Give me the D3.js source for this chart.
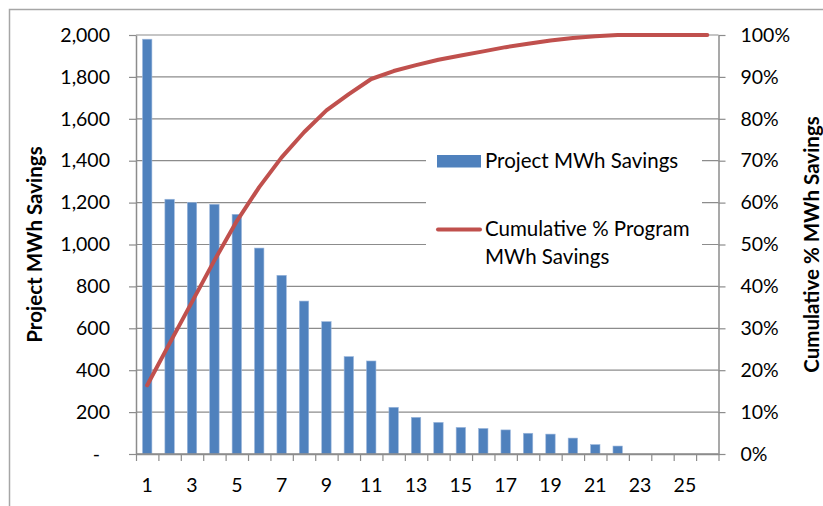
<!DOCTYPE html>
<html>
<head>
<meta charset="utf-8">
<script src="https://cdn.jsdelivr.net/npm/d3@7"></script>
<style>
  body { margin: 0; background: #fff; }
  svg { display: block; font-family: Lato, "Liberation Sans", sans-serif; }
</style>
</head>
<body>
<svg id="chart" width="823" height="506"></svg>
<script>
// chart values
const projects = [1, 2, 3, 4, 5, 6, 7, 8, 9, 10, 11, 12, 13, 14, 15, 16, 17, 18, 19, 20, 21, 22, 23, 24, 25, 26];
const mwhSavings = [1980, 1216, 1201, 1192, 1144, 983, 853, 730, 632, 465, 444, 223, 175, 151, 127, 122, 115, 99, 95, 76, 45, 38, 0, 0, 0, 0];
const cumulativePct = [16.4, 26.4, 36.3, 46.2, 55.6, 63.7, 70.8, 76.8, 82.0, 85.9, 89.5, 91.4, 92.8, 94.1, 95.1, 96.1, 97.1, 97.9, 98.7, 99.3, 99.7, 100, 100, 100, 100, 100];
const leftTicks = [0, 200, 400, 600, 800, 1000, 1200, 1400, 1600, 1800, 2000];
const rightTicks = [0, 10, 20, 30, 40, 50, 60, 70, 80, 90, 100];
const xLabels = [1, 3, 5, 7, 9, 11, 13, 15, 17, 19, 21, 23, 25];

const margin = { top: 35, right: 104.5, bottom: 52, left: 136 };
const svg = d3.select("#chart");
const W = +svg.attr("width"), H = +svg.attr("height");
const plotLeft = margin.left, plotRight = W - margin.right;
const plotTop = margin.top, plotBottom = H - margin.bottom;
const gridColor = "#8c8c8c";

// outer frame
svg.append("rect")
  .attr("x", 9.5).attr("y", 9.5)
  .attr("width", W).attr("height", H)
  .attr("fill", "none")
  .attr("stroke", "#a6a6a6")
  .attr("stroke-width", 1.5);

const x = d3.scaleBand()
  .domain(projects)
  .range([plotLeft, plotRight])
  .paddingInner(0.58)
  .paddingOuter(0.29);
const xSlot = d3.scaleLinear().domain([0, projects.length]).range([plotLeft, plotRight]);
const yLeft = d3.scaleLinear().domain([0, 2000]).range([plotBottom, plotTop]);
const yRight = d3.scaleLinear().domain([0, 100]).range([plotBottom, plotTop]);

// gridlines
svg.append("g")
  .selectAll("line")
  .data(leftTicks.filter(d => d > 0))
  .enter()
  .append("line")
  .attr("x1", plotLeft).attr("x2", plotRight)
  .attr("y1", d => yLeft(d)).attr("y2", d => yLeft(d))
  .attr("stroke", gridColor)
  .attr("stroke-width", 1.2);

function styleAxis(g) {
  g.attr("font-family", null).attr("font-size", null);
  g.select(".domain").attr("stroke", gridColor).attr("stroke-width", 1.5);
  g.selectAll(".tick line").attr("stroke", gridColor).attr("stroke-width", 1.2);
  g.selectAll(".tick text").attr("fill", "#000").style("font-size", "19.5px");
}

// left axis
const gLeft = svg.append("g")
  .attr("transform", "translate(" + plotLeft + ",0)")
  .call(d3.axisLeft(yLeft)
    .tickValues(leftTicks)
    .tickSize(7)
    .tickSizeOuter(0)
    .tickPadding(19)
    .tickFormat(d => d === 0 ? "-" : d3.format(",")(d)));
styleAxis(gLeft);
gLeft.selectAll(".tick text").filter(d => d === 0).attr("dx", "-10");

// right axis
const gRight = svg.append("g")
  .attr("transform", "translate(" + plotRight + ",0)")
  .call(d3.axisRight(yRight)
    .tickValues(rightTicks)
    .tickSize(7)
    .tickSizeOuter(0)
    .tickPadding(15)
    .tickFormat(d => d + "%"));
styleAxis(gRight);

// bottom axis: ticks at slot edges, labels at odd projects
const gTicks = svg.append("g")
  .attr("transform", "translate(0," + plotBottom + ")")
  .call(d3.axisBottom(xSlot)
    .tickValues(d3.range(projects.length + 1))
    .tickSize(7)
    .tickSizeOuter(0)
    .tickFormat(""));
styleAxis(gTicks);

const gLabels = svg.append("g")
  .attr("transform", "translate(0," + plotBottom + ")")
  .call(d3.axisBottom(x)
    .tickValues(xLabels)
    .tickSize(0)
    .tickPadding(24));
styleAxis(gLabels);
gLabels.select(".domain").remove();

// bars
svg.append("g")
  .selectAll("rect")
  .data(projects.map((p, i) => ({ p: p, v: mwhSavings[i] })).filter(d => d.v > 0))
  .enter()
  .append("rect")
  .attr("x", d => x(d.p))
  .attr("width", x.bandwidth())
  .attr("y", d => yLeft(d.v))
  .attr("height", d => plotBottom - yLeft(d.v))
  .attr("fill", "#4f81bd")
  .attr("stroke", "#9db8dd")
  .attr("stroke-width", 0.6);

// redraw bottom axis line above bars
svg.append("line")
  .attr("x1", plotLeft).attr("x2", plotRight)
  .attr("y1", plotBottom).attr("y2", plotBottom)
  .attr("stroke", gridColor).attr("stroke-width", 1.5);

// legend
const legend = svg.append("g");
legend.append("rect")
  .attr("x", 426).attr("y", 125)
  .attr("width", 276).attr("height", 155)
  .attr("fill", "#fff");
legend.append("rect")
  .attr("x", 437).attr("y", 155)
  .attr("width", 44).attr("height", 12.5)
  .attr("fill", "#4f81bd");
legend.append("text")
  .attr("x", 485).attr("y", 168)
  .style("font-size", "20.5px")
  .text("Project MWh Savings");
legend.append("line")
  .attr("x1", 438).attr("x2", 480)
  .attr("y1", 229.5).attr("y2", 229.5)
  .attr("stroke", "#c0504d").attr("stroke-width", 4)
  .attr("stroke-linecap", "round");
legend.append("text")
  .attr("x", 485).attr("y", 236)
  .style("font-size", "20.5px")
  .text("Cumulative % Program");
legend.append("text")
  .attr("x", 485).attr("y", 264)
  .style("font-size", "20.5px")
  .text("MWh Savings");

// cumulative line
const line = d3.line()
  .x((d, i) => x(projects[i]) + x.bandwidth() / 2)
  .y(d => yRight(d));
svg.append("path")
  .datum(cumulativePct)
  .attr("d", line)
  .attr("fill", "none")
  .attr("stroke", "#c0504d")
  .attr("stroke-width", 4)
  .attr("stroke-linejoin", "round")
  .attr("stroke-linecap", "round");

// axis titles
svg.append("text")
  .attr("transform", "translate(42," + (plotTop + plotBottom) / 2 + ") rotate(-90)")
  .attr("text-anchor", "middle")
  .style("font-size", "20.5px")
  .style("font-weight", "bold")
  .text("Project MWh Savings");
svg.append("text")
  .attr("transform", "translate(819," + (plotTop + plotBottom) / 2 + ") rotate(-90)")
  .attr("text-anchor", "middle")
  .style("font-size", "20.5px")
  .style("font-weight", "bold")
  .text("Cumulative % MWh Savings");
</script>
</body>
</html>
